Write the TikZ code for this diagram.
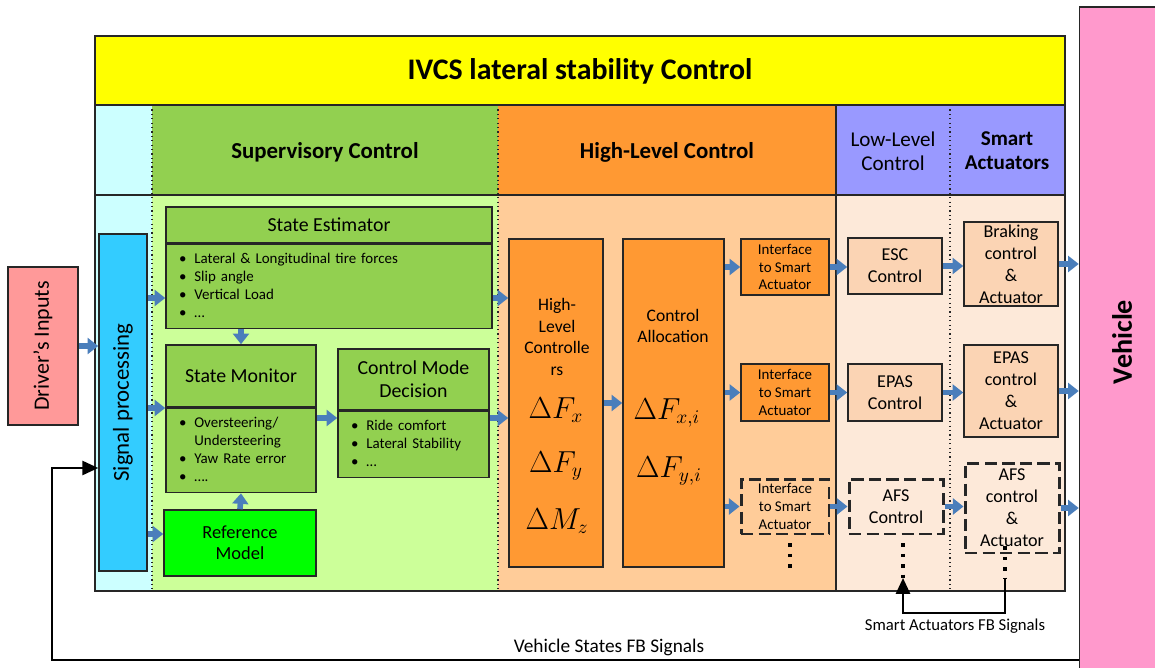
\documentclass[tikz,border=0pt]{standalone}
\usepackage{fontspec}
\setmainfont{Carlito}
\usepackage{tikz}
\usetikzlibrary{arrows.meta,positioning}

\definecolor{ttlyellow}{HTML}{FFFF00}
\definecolor{spcyan}{HTML}{CCFFFF}
\definecolor{supgreen}{HTML}{92D050}
\definecolor{supbg}{HTML}{CCFF99}
\definecolor{hlorange}{HTML}{FF9933}
\definecolor{hlbg}{HTML}{FFCC99}
\definecolor{llviolet}{HTML}{9999FF}
\definecolor{llbg}{HTML}{FDE9D9}
\definecolor{llbox}{HTML}{FBD4B4}
\definecolor{sigblue}{HTML}{33CCFF}
\definecolor{drvred}{HTML}{FF9999}
\definecolor{vehpink}{HTML}{FF99CC}
\definecolor{refgreen}{HTML}{00FF00}
\definecolor{arrblue}{HTML}{4A7EBB}

\newcommand{\blist}[1]{\begin{tabular}{@{}l@{\hspace{4.5pt}}l@{}}#1\end{tabular}}

\begin{document}
\begin{tikzpicture}[x=0.02cm, y=-0.02cm,
  font=\fontsize{10.3}{12.5}\selectfont,
  box/.style={rectangle, draw=black!85, line width=0.9pt, align=center, inner sep=0pt},
  dbox/.style={box, line width=1.7pt, dash pattern=on 7pt off 3pt},
  lst/.style={box, fill=supgreen, align=left, inner xsep=0.26cm, font=\fontsize{8.5}{10.2}\selectfont},
  hdr/.style={font=\bfseries\fontsize{13}{15}\selectfont, align=center},
  mth/.style={font=\fontsize{16}{19}\selectfont},
  sep/.style={black!85, line width=0.7pt, dash pattern=on 0.7pt off 1.8pt},
  frame/.style={black!85, line width=1pt},
  blk/.style={-{Triangle[length=6pt,width=9pt]}, line width=3.2pt, arrblue},
  fbarr/.style={-{Triangle[length=9pt,width=8pt]}, line width=1.3pt},
  fbdot/.style={line width=1.9pt, dash pattern=on 1.9pt off 4pt}
]
\clip (0,0) rectangle (1155,668);

% panels
\fill[ttlyellow] (95,36) rectangle (1065,105);
\fill[spcyan] (95,105) rectangle (152,591);
\fill[supgreen] (152,105) rectangle (498,195);
\fill[supbg] (152,195) rectangle (498,591);
\fill[hlorange] (498,105) rectangle (836,195);
\fill[hlbg] (498,195) rectangle (836,591);
\fill[llviolet] (836,105) rectangle (1065,195);
\fill[llbg] (836,195) rectangle (1065,591);
\draw[frame] (95,36) rectangle (1065,591);
\draw[frame] (95,105) -- (1065,105) (95,195) -- (1065,195) (836,105) -- (836,591);
\draw[sep] (152,105) -- (152,591) (498,105) -- (498,591) (950,105) -- (950,591);

% headers
\node[font=\bfseries\fontsize{17}{20}\selectfont] (ttl) at (580,71) {IVCS lateral stability Control};
\node[hdr] (supv) at (325,152) {Supervisory Control};
\node[hdr] (hlctl) at (667,152) {High-Level Control};
\node[font=\fontsize{12}{13.6}\selectfont, align=center] (llctl) at (893,151) {Low-Level\\Control};
\node[hdr, font=\bfseries\fontsize{12}{13.6}\selectfont] (smact) at (1007,151) {Smart\\Actuators};

% inputs
\node[box, fill=drvred, minimum width=1.4cm, minimum height=3.16cm, font=\fontsize{12.5}{15}\selectfont] (drv) at (43,346) {\rotatebox{90}{Driver’s Inputs}};
\node[box, fill=sigblue, minimum width=0.96cm, minimum height=6.74cm, font=\fontsize{13}{15}\selectfont] (sp) at (123,402.5) {\rotatebox{90}{Signal processing}};

% supervisory control
\node[box, fill=supgreen, minimum width=6.52cm, minimum height=0.72cm, font=\fontsize{11.3}{13}\selectfont] (setitle) at (329,225) {State Estimator};
\node[lst, text width=6.0cm, minimum width=6.52cm, minimum height=1.68cm, below=0pt of setitle] (selist)
  {\blist{\textbullet & Lateral \& Longitudinal tire forces\\ \textbullet & Slip angle\\ \textbullet & Vertical Load\\ \textbullet & …}};
\node[box, fill=supgreen, minimum width=3.0cm, minimum height=1.24cm, font=\fontsize{11.3}{13}\selectfont] (smtitle) at (241,376) {State Monitor};
\node[lst, text width=2.48cm, minimum width=3.0cm, minimum height=1.68cm, below=0pt of smtitle] (smlist)
  {\blist{\textbullet & Oversteering/\\ & Understeering\\ \textbullet & Yaw Rate error\\ \textbullet & ….}};
\node[box, fill=supgreen, minimum width=3.02cm, minimum height=1.22cm, font=\fontsize{11.3}{13}\selectfont] (cmdtitle) at (413.5,379.5) {Control Mode\\Decision};
\node[lst, text width=2.5cm, minimum width=3.02cm, minimum height=1.32cm, below=0pt of cmdtitle] (cmdlist)
  {\blist{\textbullet & Ride comfort\\ \textbullet & Lateral Stability\\ \textbullet & …}};
\node[box, fill=refgreen, minimum width=3.04cm, minimum height=1.32cm, font=\fontsize{10.5}{11.9}\selectfont] (rm) at (240,543) {Reference\\Model};

% high-level control
\node[box, fill=hlorange, minimum width=1.88cm, minimum height=6.56cm] (hlc) at (556,403) {};
\node[font=\fontsize{10}{12.2}\selectfont, align=center] (hlctxt) at (557,337) {High-\\Level\\Controlle\\rs};
\node[mth] (dfx) at (556,410) {$\Delta F_x$};
\node[mth] (dfy) at (556,466) {$\Delta F_y$};
\node[mth] (dmz) at (557,521) {$\Delta M_z$};
\node[box, fill=hlorange, minimum width=2.02cm, minimum height=6.56cm] (ca) at (673.5,403) {};
\node[font=\fontsize{10}{12.2}\selectfont, align=center] (catxt) at (673,326) {Control\\Allocation};
\node[mth] (dfxi) at (667,413) {$\Delta F_{x,i}$};
\node[mth] (dfyi) at (669,471) {$\Delta F_{y,i}$};
\node[box, fill=hlorange, minimum width=1.76cm, minimum height=1.12cm, font=\fontsize{8.5}{10}\selectfont] (ifa) at (785,267) {Interface\\to Smart\\Actuator};
\node[box, fill=hlorange, minimum width=1.76cm, minimum height=1.14cm, font=\fontsize{8.5}{10}\selectfont] (ifb) at (785,392.5) {Interface\\to Smart\\Actuator};
\node[dbox, minimum width=1.76cm, minimum height=1.1cm, font=\fontsize{8.5}{10}\selectfont] (ifc) at (785,506.5) {Interface\\to Smart\\Actuator};

% low-level control and actuators
\node[box, fill=llbox, minimum width=1.88cm, minimum height=1.12cm] (esc) at (895,266) {ESC\\Control};
\node[box, fill=llbox, minimum width=1.88cm, minimum height=1.14cm] (epas) at (895,392.5) {EPAS\\Control};
\node[dbox, minimum width=1.88cm, minimum height=1.1cm] (afs) at (896,506.5) {AFS\\Control};
\node[box, fill=llbox, minimum width=1.88cm, minimum height=1.68cm] (brk) at (1011,264) {Braking\\control\\\&\\Actuator};
\node[box, fill=llbox, minimum width=1.88cm, minimum height=1.84cm] (epasact) at (1011,391) {EPAS\\control\\\&\\Actuator};
\node[dbox, minimum width=1.88cm, minimum height=1.8cm] (afsact) at (1012,508) {AFS\\control\\\&\\Actuator};

\node[box, fill=vehpink, minimum width=1.7cm, minimum height=13.4cm, font=\bfseries\fontsize{16}{19}\selectfont] (veh) at (1122,342) {\rotatebox{90}{Vehicle}};

% signal levels
\coordinate (lvA) at (0,298);
\coordinate (lvB) at (0,408);
\coordinate (lvC) at (0,418);
\coordinate (lvD) at (0,534);
\coordinate (lvE) at (0,468);

\draw[blk] (drv.east) -- (sp.west |- drv.east);
\draw[blk] (sp.east |- lvA) -- (selist.west |- lvA);
\draw[blk] (sp.east |- lvB) -- (smlist.west |- lvB);
\draw[blk] (sp.east |- lvD) -- (rm.west |- lvD);
\draw[blk] (selist.south -| smtitle.north) -- (smtitle.north);
\draw[blk] (rm.north) -- (smlist.south);
\draw[blk] (smlist.east |- lvC) -- (cmdlist.west |- lvC);
\draw[blk] (selist.east |- lvA) -- (hlc.west |- lvA);
\draw[blk] (cmdlist.east |- lvC) -- (hlc.west |- lvC);
\draw[blk] (hlc.east) -- (ca.west);
\draw[blk] (ca.east |- ifa.west) -- (ifa.west);
\draw[blk] (ca.east |- ifb.west) -- (ifb.west);
\draw[blk] (ca.east |- ifc.west) -- (ifc.west);
\draw[blk] (ifa.east) -- (esc.west |- ifa.east);
\draw[blk] (ifb.east) -- (epas.west |- ifb.east);
\draw[blk] (ifc.east) -- (afs.west |- ifc.east);
\draw[blk] (esc.east) -- (brk.west |- esc.east);
\draw[blk] (epas.east) -- (epasact.west |- epas.east);
\draw[blk] (afs.east) -- (afsact.west |- afs.east);
\draw[blk] (brk.east) -- (veh.west |- brk.east);
\draw[blk] (epasact.east) -- (veh.west |- epasact.east);
\draw[blk] (afsact.east) -- (veh.west |- afsact.east);

% feedback
\coordinate (ifd) at (790,572);
\draw[fbdot] (ifc.south -| ifd) ++(0,8) -- (ifd);
\coordinate (sfa) at (1005,578);
\coordinate (sfb) at (1005,613);
\coordinate (sfc) at (903,578);
\draw[fbdot] (afsact.south -| sfa) ++(0,-8) -- (sfa);
\draw[fbdot] (afs.south -| sfc) ++(0,8) -- (sfc);
\draw[fbarr] (sfa) -- (sfb) -| (sfc);
\node[font=\fontsize{9.5}{11}\selectfont] (sfblbl) at (955,626) {Smart Actuators FB Signals};
\coordinate (fbb) at (52,660);
\draw[fbarr] (veh.west |- fbb) -- (fbb) |- (sp.west |- lvE);
\node[font=\fontsize{11}{13}\selectfont] (vsfb) at (609,647) {Vehicle States FB Signals};
\end{tikzpicture}
\end{document}
